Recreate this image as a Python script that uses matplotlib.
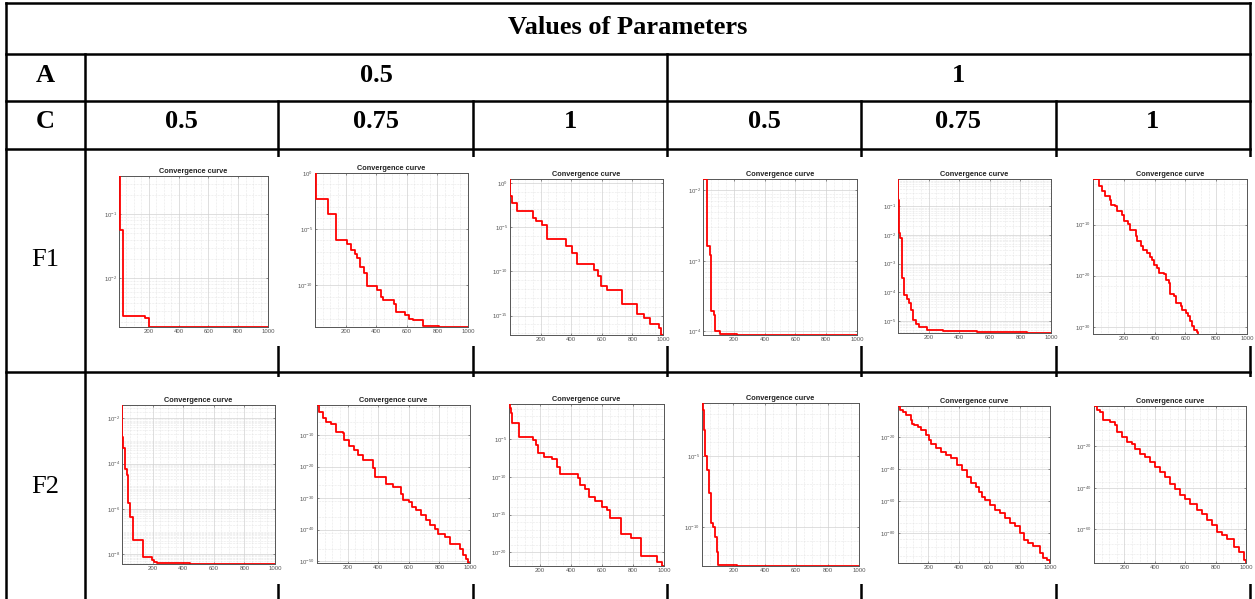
import numpy as np
import matplotlib
matplotlib.use("Agg")
import matplotlib.pyplot as plt
from matplotlib.patches import Rectangle
from matplotlib.ticker import FixedLocator, LogLocator, NullFormatter, LogFormatterMathtext

plt.rcParams["font.family"] = ["Liberation Sans", "DejaVu Sans"]
plt.rcParams["mathtext.default"] = "regular"

W, H = 1255, 599

header_title = "Values of Parameters"
a_values = ["0.5", "1"]
c_values = ["0.5", "0.75", "1", "0.5", "0.75", "1"]
functions = ["F1", "F2"]
panel_title = "Convergence curve"

# Best-so-far curves: iteration where the best value changes, log10 of the best value
f1_a05_c05_it = [1, 5, 30, 172, 200, 1000]
f1_a05_c05_lg = [-0.40, -1.25, -2.59, -2.63, -2.77, -2.77]

f1_a05_c075_it = [1, 5, 86, 134, 210, 233, 261, 277, 292, 320, 342, 408, 430, 447,
                  517, 528, 587, 615, 643, 709, 812, 1000]
f1_a05_c075_lg = [0.0, -2.32, -3.63, -5.95, -6.34, -6.85, -7.2, -7.6, -8.4, -8.87, -10.06,
                  -10.42, -11.0, -11.3, -11.67, -12.35, -12.65, -12.95, -13.1, -13.6,
                  -13.69, -13.69]

f1_a05_c1_it = [1, 3, 16, 43, 152, 170, 207, 243, 364, 408, 440, 552, 574, 593, 633,
                731, 830, 873, 917, 972, 987, 1000]
f1_a05_c1_lg = [0.45, -1.5, -2.26, -3.13, -3.96, -4.26, -4.72, -6.3, -7.09, -7.92, -9.17,
                -9.81, -10.49, -11.62, -12.08, -13.7, -14.8, -15.28, -15.92, -16.4,
                -17.2, -17.2]

f1_a1_c05_it = [1, 26, 43, 52, 70, 80, 109, 222, 1000]
f1_a1_c05_lg = [-1.84, -2.79, -2.92, -3.71, -3.77, -4.0, -4.03, -4.05, -4.05]

f1_a1_c075_it = [1, 2, 5, 14, 23, 29, 38, 58, 73, 84, 97, 119, 134, 188, 297, 515, 842, 1000]
f1_a1_c075_lg = [-0.04, -0.77, -1.94, -2.11, -2.46, -3.51, -4.1, -4.22, -4.37, -4.6, -4.98,
                 -5.09, -5.21, -5.3, -5.35, -5.39, -5.41, -5.42]

f1_a1_c1_it = [1, 37, 59, 80, 109, 117, 146, 157, 189, 200, 226, 239, 276, 287, 309, 326,
               352, 370, 385, 396, 417, 428, 461, 472, 493, 500, 526, 537, 570, 580, 602,
               617, 630, 641, 657, 678, 685]
f1_a1_c1_lg = [-1.08, -2.38, -3.49, -4.46, -5.11, -6.09, -6.29, -7.39, -8.05, -9.35, -9.8,
               -10.98, -12.15, -13.26, -14.23, -14.89, -15.54, -16.32, -16.84, -17.82,
               -18.47, -19.45, -19.58, -20.75, -21.4, -23.49, -24.0, -25.31, -25.96,
               -26.61, -27.26, -27.92, -28.89, -29.87, -30.52, -31.04, -31.4]

f2_a05_c05_it = [1, 3, 7, 18, 34, 40, 55, 73, 139, 194, 209, 227, 446, 1000]
f2_a05_c05_lg = [-1.41, -2.81, -3.32, -4.25, -4.5, -5.72, -6.37, -7.37, -8.1, -8.25, -8.32,
                 -8.4, -8.43, -8.43]

f2_a05_c075_it = [1, 14, 36, 58, 91, 123, 167, 178, 211, 243, 266, 298, 364, 379, 451, 495,
                  549, 560, 604, 620, 648, 681, 714, 736, 768, 790, 834, 867, 932, 954,
                  976, 987, 1000]
f2_a05_c075_lg = [-0.45, -2.57, -4.7, -5.76, -6.6, -8.94, -9.26, -11.6, -13.5, -14.77,
                  -16.37, -17.96, -20.3, -23.26, -25.6, -26.45, -28.57, -30.69, -31.22,
                  -32.81, -33.87, -35.46, -37.06, -38.65, -39.71, -41.3, -42.36, -44.48,
                  -46.29, -48.2, -49.26, -50.6, -50.6]

f2_a05_c1_it = [1, 5, 16, 21, 64, 157, 174, 189, 226, 276, 308, 326, 442, 460, 492, 519,
                557, 600, 633, 650, 723, 784, 849, 952, 989, 1000]
f2_a05_c1_lg = [-0.37, -0.94, -1.6, -2.93, -4.69, -5.13, -5.79, -6.9, -7.43, -7.69, -8.66,
                -9.63, -10.2, -11.09, -11.62, -12.63, -13.16, -13.95, -14.4, -15.5,
                -17.62, -18.15, -20.48, -21.23, -21.8, -21.8]

f2_a1_c05_it = [1, 6, 13, 21, 34, 47, 55, 72, 83, 94, 100, 222, 1000]
f2_a1_c05_lg = [-1.23, -1.75, -3.16, -5.0, -5.99, -7.64, -9.76, -10.0, -10.71, -11.77,
                -12.71, -12.78, -12.78]

f2_a1_c075_it = [1, 15, 31, 52, 85, 89, 107, 129, 150, 183, 205, 216, 248, 281, 314, 346,
                 390, 423, 455, 477, 510, 532, 553, 575, 608, 641, 673, 706, 739, 771, 804,
                 826, 858, 891, 935, 956, 978, 1000]
f2_a1_c075_lg = [-0.75, -3.0, -4.47, -6.54, -9.65, -11.72, -12.75, -13.79, -15.86, -18.96,
                 -22.07, -24.14, -27.25, -29.32, -31.39, -33.46, -37.6, -40.7, -44.84,
                 -48.99, -51.06, -54.16, -57.27, -59.34, -62.44, -65.55, -67.62, -70.72,
                 -73.83, -75.9, -80.04, -84.18, -86.25, -88.32, -92.46, -95.57, -96.6,
                 -98.67]

f2_a1_c1_it = [1, 18, 40, 62, 106, 139, 150, 183, 216, 249, 271, 304, 337, 370, 403, 436,
               469, 502, 535, 568, 601, 634, 678, 711, 744, 778, 811, 844, 877, 921, 954,
               987, 1000]
f2_a1_c1_lg = [-0.55, -2.6, -3.4, -7.5, -8.3, -9.9, -13.1, -15.5, -17.9, -18.7, -21.1,
               -23.5, -25.1, -27.6, -30.0, -32.4, -34.8, -38.0, -40.4, -43.6, -45.2, -47.7,
               -50.9, -52.5, -55.7, -58.1, -61.3, -62.9, -64.5, -68.6, -71.0, -74.7, -76.3]

x_ticks = [200, 400, 600, 800, 1000]

# panel layout: curve, axes box in pixels (left, top, right, bottom), labelled decades,
# minor grid step in decades (None -> 2..9 subdivisions)
panels = [
    (f1_a05_c05_it, f1_a05_c05_lg, (119, 176, 268, 327), [-1, -2], None),
    (f1_a05_c075_it, f1_a05_c075_lg, (315, 173, 468, 327), [0, -5, -10], 1),
    (f1_a05_c1_it, f1_a05_c1_lg, (510, 179, 663, 335), [0, -5, -10, -15], 1),
    (f1_a1_c05_it, f1_a1_c05_lg, (703, 179, 857, 335), [-2, -3, -4], None),
    (f1_a1_c075_it, f1_a1_c075_lg, (898, 179, 1051, 333), [-1, -2, -3, -4, -5], None),
    (f1_a1_c1_it, f1_a1_c1_lg, (1093, 179, 1247, 334), [-10, -20, -30], 5),
    (f2_a05_c05_it, f2_a05_c05_lg, (122, 405, 275, 564), [-2, -4, -6, -8], None),
    (f2_a05_c075_it, f2_a05_c075_lg, (317, 405, 470, 563), [-10, -20, -30, -40, -50], 5),
    (f2_a05_c1_it, f2_a05_c1_lg, (509, 404, 664, 566), [-5, -10, -15, -20], 1),
    (f2_a1_c05_it, f2_a1_c05_lg, (702, 403, 859, 566), [-5, -10], 1),
    (f2_a1_c075_it, f2_a1_c075_lg, (898, 406, 1050, 563), [-20, -40, -60, -80], 5),
    (f2_a1_c1_it, f2_a1_c1_lg, (1094, 406, 1246, 563), [-20, -40, -60], 5),
]

fig = plt.figure(figsize=(W / 100, H / 100), dpi=100)
fig.patch.set_facecolor("white")

bg = fig.add_axes([0, 0, 1, 1])
bg.set_xlim(0, W)
bg.set_ylim(H, 0)
bg.axis("off")

LW = 1.8
x_left, x_right = 6, 1250
x_label = 85
col_edges = [85, 278, 473, 667, 861, 1056, 1250]
y_top, y_title, y_a, y_c, y_f1 = 3, 54, 101, 149, 372

for y in (y_top, y_title, y_a, y_c, y_f1):
    bg.plot([x_left, x_right], [y, y], color="black", lw=LW, solid_capstyle="projecting")
bg.plot([x_left, x_left], [y_top, H], color="black", lw=LW)
bg.plot([x_right, x_right], [y_top, H], color="black", lw=LW)
bg.plot([x_label, x_label], [y_title, H], color="black", lw=LW)
bg.plot([col_edges[3], col_edges[3]], [y_title, H], color="black", lw=LW)
for x in col_edges[1:-1]:
    if x != col_edges[3]:
        bg.plot([x, x], [y_a, H], color="black", lw=LW)

# screenshots cover the cell interiors
row_spans = [(157, 346), (377, 584)]
for (y0, y1) in row_spans:
    for i in range(6):
        xa = col_edges[i] + (3 if i == 0 else -3)
        xb = col_edges[i + 1] + 3
        bg.add_patch(Rectangle((xa, y0), xb - xa, y1 - y0, facecolor="white",
                               edgecolor="none", zorder=5))

serif = dict(family=["Liberation Serif", "DejaVu Serif"], fontsize=19, color="black",
             ha="center", va="center")
bg.text((x_left + x_right) / 2, 27, header_title, fontweight="bold", **serif)
bg.text((x_left + x_label) / 2, 76, "A", fontweight="bold", **serif)
bg.text((x_left + x_label) / 2, 121, "C", fontweight="bold", **serif)
bg.text((col_edges[0] + col_edges[3]) / 2, 76, a_values[0], fontweight="bold", **serif)
bg.text((col_edges[3] + col_edges[6]) / 2, 76, a_values[1], fontweight="bold", **serif)
for i, c in enumerate(c_values):
    bg.text((col_edges[i] + col_edges[i + 1]) / 2, 121, c, fontweight="bold", **serif)
bg.text((x_left + x_label) / 2, 260, functions[0], **serif)
bg.text((x_left + x_label) / 2, 487, functions[1], **serif)

tick_font = dict(fontsize=4.3, color="#555555")

for it, lg, (l, t, r, b), majors, minor_step in panels:
    ax = fig.add_axes([l / W, 1 - b / H, (r - l) / W, (b - t) / H])
    vals = 10.0 ** np.asarray(lg)
    ax.step(it, vals, where="post", color="red", lw=1.3, zorder=3)
    ax.set_yscale("log")
    ax.set_xlim(0, 1000)
    ax.set_ylim(vals.min(), vals.max())
    ax.xaxis.set_major_locator(FixedLocator(x_ticks))
    ax.xaxis.set_minor_locator(FixedLocator(np.arange(50, 1000, 50)))
    ax.yaxis.set_major_locator(FixedLocator(10.0 ** np.asarray(majors, dtype=float)))
    ax.yaxis.set_major_formatter(LogFormatterMathtext())
    if minor_step is None:
        ax.yaxis.set_minor_locator(LogLocator(base=10, subs=np.arange(1, 10), numticks=200))
    else:
        lo, hi = np.floor(min(lg)), np.ceil(max(lg))
        ax.yaxis.set_minor_locator(FixedLocator(10.0 ** np.arange(lo, hi + 1, minor_step)))
    ax.yaxis.set_minor_formatter(NullFormatter())
    ax.grid(True, which="major", color="#d2d2d2", lw=0.5, ls="-")
    ax.grid(True, which="minor", color="#d4d4d4", lw=0.4, ls=":")
    ax.set_axisbelow(True)
    ax.tick_params(which="both", direction="in", length=1.2, width=0.4, color="#444444",
                   top=True, right=True, pad=1.5, labelsize=tick_font["fontsize"],
                   labelcolor=tick_font["color"])
    ax.tick_params(which="minor", length=0)
    for s in ax.spines.values():
        s.set_color("#555555")
        s.set_linewidth(0.7)
    ax.set_title(panel_title, fontsize=5.3, fontweight="bold", color="#222222", pad=2.5)
    ax.set_facecolor("white")

fig.savefig("out.png", dpi=100, facecolor="white")
